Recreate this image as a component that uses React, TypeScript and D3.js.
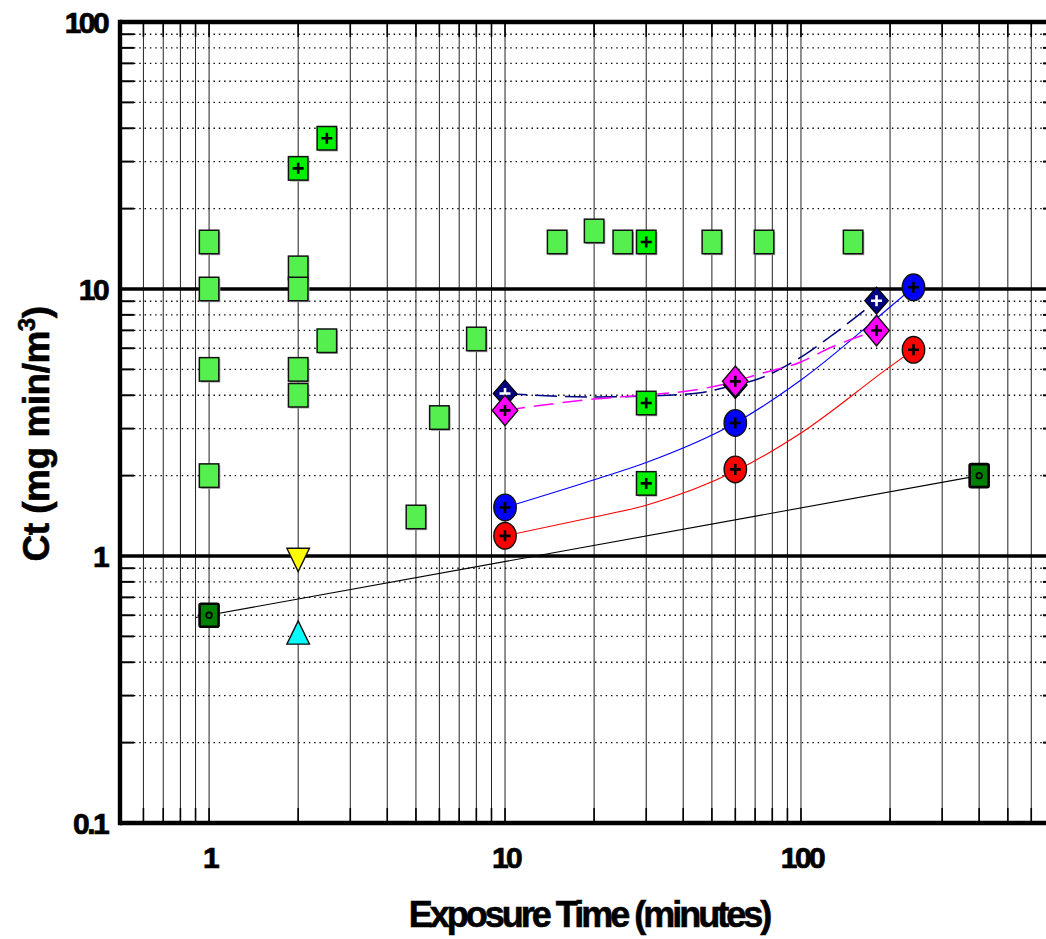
import React from "react";
import * as d3 from "d3";

// ---------------- data ----------------
const plainSqX = [1, 1, 1, 1, 2, 2, 2, 2, 2.5, 5, 6, 8, 15, 20, 25, 50, 75, 150];
const plainSqY = [15, 10, 5, 2, 12, 10, 5, 4, 6.4, 1.4, 3.3, 6.5, 15, 16.5, 15, 15, 15, 15];

const crossSqX = [2, 2.5, 30, 30, 30];
const crossSqY = [28.3, 36.7, 15, 3.74, 1.87];

const darkSqX = [1, 400];
const darkSqY = [0.6, 2.0];

const yellowTriX = [2];
const yellowTriY = [1.0];
const cyanTriX = [2];
const cyanTriY = [0.5];

const blueX = [10, 60, 240];
const blueY = [1.52, 3.15, 10.15];
const redX = [10, 60, 240];
const redY = [1.19, 2.11, 5.92];
const navyX = [10, 60, 180];
const navyY = [4.06, 4.37, 9.04];
const magentaX = [10, 60, 180];
const magentaY = [3.51, 4.51, 6.99];

// fitted curves
const blueFitX = [10, 20, 30, 60, 100, 200, 240];
const blueFitY = [1.52, 1.93, 2.24, 3.15, 4.56, 8.56, 10.15];
const redFitX = [10, 20, 30, 60, 100, 200, 240];
const redFitY = [1.19, 1.4, 1.55, 2.08, 2.89, 5.12, 5.92];
const navyFitX = [10, 20, 30, 45, 60, 70, 100, 125, 180];
const navyFitY = [4.06, 3.94, 3.97, 4.08, 4.37, 4.56, 5.56, 6.61, 9.04];
const magentaFitX = [10, 20, 30, 42, 60, 70, 100, 125, 180];
const magentaFitY = [3.51, 3.87, 4.01, 4.16, 4.51, 4.76, 5.33, 6.01, 6.99];
const blackFitX = [0.9, 400];
const blackFitY = [0.588, 2.0];

const xTickLabels = [1, 10, 100];
const yTickLabels = [0.1, 1, 10, 100];
const yMajorLines = [1, 10];

// ---------------- layout ----------------
const W = 1046;
const H = 939;
const L = 120, R = 1057, T = 22, B = 823;
const FONT = "'Liberation Sans', Arial, Helvetica, sans-serif";

const zip = (xs: number[], ys: number[]) => xs.map((v, i) => [v, ys[i]] as [number, number]);

function Plus({ cx, cy, color = "#000" }: { cx: number; cy: number; color?: string }) {
  const a = 5.5;
  return (
    <path
      d={`M${cx - a},${cy}H${cx + a}M${cx},${cy - a}V${cy + a}`}
      stroke={color}
      strokeWidth={2.6}
      fill="none"
    />
  );
}

export default function App() {
  const x = d3.scaleLog().domain([0.5, 733]).range([L, R]);
  const y = d3.scaleLog().domain([0.1, 100]).range([B, T]);

  const xGrid = x.ticks().filter((v) => v > 0.5 * 1.0001 && v < 733);
  const yGrid = y.ticks().filter((v) => v > 0.1 * 1.0001 && v < 99.99);
  const yMinor = yGrid.filter((v) => !yMajorLines.some((m) => Math.abs(m - v) < 1e-9));

  const line = d3
    .line<[number, number]>()
    .x((d) => x(d[0]))
    .y((d) => y(d[1]))
    .curve(d3.curveMonotoneX);

  const sqW = 19.5, sqH = 23.5;

  return (
    <svg
      width={W}
      height={H}
      style={{ position: "absolute", left: 0, top: 0, background: "#fff" }}
      fontFamily={FONT}
    >
      <rect x={0} y={0} width={W} height={H} fill="#fff" />

      {/* vertical grid lines */}
      {xGrid.map((v, i) => (
        <line key={"vg" + i} x1={x(v)} x2={x(v)} y1={T} y2={B} stroke="#222" strokeWidth={1} />
      ))}
      {/* top / bottom inner ticks */}
      {xGrid.map((v, i) => (
        <g key={"vt" + i}>
          <line x1={x(v)} x2={x(v)} y1={B - 15} y2={B} stroke="#000" strokeWidth={1.6} />
          <line x1={x(v)} x2={x(v)} y1={T} y2={T + 15} stroke="#000" strokeWidth={1.6} />
        </g>
      ))}

      {/* horizontal dotted minor grid */}
      {yMinor.map((v, i) => (
        <g key={"hg" + i}>
          <line
            x1={L + 14}
            x2={R - 14}
            y1={y(v)}
            y2={y(v)}
            stroke="#000"
            strokeWidth={1.4}
            strokeDasharray="1.4 3.9"
          />
          <line x1={L} x2={L + 14} y1={y(v)} y2={y(v)} stroke="#000" strokeWidth={2} />
          <line x1={R - 14} x2={R} y1={y(v)} y2={y(v)} stroke="#000" strokeWidth={2} />
        </g>
      ))}

      {/* major horizontal lines */}
      {yMajorLines.map((v, i) => (
        <line key={"hm" + i} x1={L} x2={R} y1={y(v)} y2={y(v)} stroke="#000" strokeWidth={3.3} />
      ))}

      {/* frame */}
      <line x1={L} x2={R} y1={T} y2={T} stroke="#000" strokeWidth={4.6} />
      <line x1={L} x2={R} y1={B} y2={B} stroke="#000" strokeWidth={4.6} />
      <line x1={L} x2={L} y1={T - 2.3} y2={B + 2.3} stroke="#000" strokeWidth={4.4} />
      <line x1={R} x2={R} y1={T - 2.3} y2={B + 2.3} stroke="#000" strokeWidth={4.4} />

      {/* fitted curves */}
      <path d={line(zip(blackFitX, blackFitY)) || ""} stroke="#000" strokeWidth={1.1} fill="none" />
      <path d={line(zip(redFitX, redFitY)) || ""} stroke="#ff0000" strokeWidth={1.1} fill="none" />
      <path d={line(zip(blueFitX, blueFitY)) || ""} stroke="#0000ff" strokeWidth={1.1} fill="none" />
      <path
        d={line(zip(navyFitX, navyFitY)) || ""}
        stroke="#000080"
        strokeWidth={1.5}
        strokeDasharray="22 8"
        fill="none"
      />
      <path
        d={line(zip(magentaFitX, magentaFitY)) || ""}
        stroke="#ff00ff"
        strokeWidth={1.5}
        strokeDasharray="20 9"
        fill="none"
      />

      {/* light green squares */}
      {zip(plainSqX, plainSqY).map(([a, b], i) => (
        <g key={"ps" + i}>
          <rect x={x(a) - sqW / 2 + 1.5} y={y(b) - sqH / 2 + 1.5} width={sqW} height={sqH} fill="#aaa" />
          <rect
            x={x(a) - sqW / 2}
            y={y(b) - sqH / 2}
            width={sqW}
            height={sqH}
            fill="#55f050"
            stroke="#111"
            strokeWidth={1.5}
          />
        </g>
      ))}

      {/* bright green squares with cross */}
      {zip(crossSqX, crossSqY).map(([a, b], i) => (
        <g key={"cs" + i}>
          <rect x={x(a) - sqW / 2 + 1.5} y={y(b) - sqH / 2 + 1.5} width={sqW} height={sqH} fill="#aaa" />
          <rect
            x={x(a) - sqW / 2}
            y={y(b) - sqH / 2}
            width={sqW}
            height={sqH}
            fill="#00f000"
            stroke="#111"
            strokeWidth={1.5}
          />
          <Plus cx={x(a)} cy={y(b)} />
        </g>
      ))}

      {/* dark green squares with small circle */}
      {zip(darkSqX, darkSqY).map(([a, b], i) => (
        <g key={"ds" + i}>
          <rect
            x={x(a) - 9.5}
            y={y(b) - 11.5}
            width={19}
            height={23}
            rx={1.5}
            fill="#008000"
            stroke="#000"
            strokeWidth={2.6}
          />
          <circle cx={x(a)} cy={y(b)} r={2.8} fill="none" stroke="#000" strokeWidth={1.8} />
        </g>
      ))}

      {/* triangles (centroid at the data value) */}
      {zip(yellowTriX, yellowTriY).map(([a, b], i) => {
        const cx = x(a), cy = y(b), w = 11.3, h = 23.3;
        return (
          <path
            key={"yt" + i}
            d={`M${cx - w},${cy - h / 3}L${cx + w},${cy - h / 3}L${cx},${cy + (2 * h) / 3}Z`}
            fill="#ffff00"
            stroke="#111"
            strokeWidth={1.4}
          />
        );
      })}
      {zip(cyanTriX, cyanTriY).map(([a, b], i) => {
        const cx = x(a), cy = y(b), w = 11.3, h = 23.3;
        return (
          <path
            key={"ct" + i}
            d={`M${cx - w},${cy + h / 3}L${cx + w},${cy + h / 3}L${cx},${cy - (2 * h) / 3}Z`}
            fill="#00ffff"
            stroke="#111"
            strokeWidth={1.4}
          />
        );
      })}

      {/* navy diamonds with white cross */}
      {zip(navyX, navyY).map(([a, b], i) => {
        const cx = x(a), cy = y(b), w = 11.8, h = 13.5;
        return (
          <g key={"nd" + i}>
            <path
              d={`M${cx},${cy - h}L${cx + w},${cy}L${cx},${cy + h}L${cx - w},${cy}Z`}
              fill="#000080"
              stroke="#000"
              strokeWidth={1.2}
            />
            <Plus cx={cx} cy={cy} color="#fff" />
          </g>
        );
      })}

      {/* magenta diamonds */}
      {zip(magentaX, magentaY).map(([a, b], i) => {
        const cx = x(a), cy = y(b), w = 12.8, h = 15.3;
        return (
          <g key={"md" + i}>
            <path
              d={`M${cx},${cy - h}L${cx + w},${cy}L${cx},${cy + h}L${cx - w},${cy}Z`}
              fill="#ff00ff"
              stroke="#111"
              strokeWidth={1.4}
            />
            <Plus cx={cx} cy={cy} />
          </g>
        );
      })}

      {/* blue ellipses */}
      {zip(blueX, blueY).map(([a, b], i) => (
        <g key={"be" + i}>
          <ellipse cx={x(a)} cy={y(b)} rx={11.2} ry={13.3} fill="#0000ff" stroke="#111" strokeWidth={1.4} />
          <Plus cx={x(a)} cy={y(b)} />
        </g>
      ))}
      {/* red ellipses */}
      {zip(redX, redY).map(([a, b], i) => (
        <g key={"re" + i}>
          <ellipse cx={x(a)} cy={y(b)} rx={11.2} ry={13.3} fill="#ff0000" stroke="#111" strokeWidth={1.4} />
          <Plus cx={x(a)} cy={y(b)} />
        </g>
      ))}

      {/* tick labels */}
      {yTickLabels.map((v, i) => (
        <text
          key={"yl" + i}
          x={107}
          y={y(v) + 11}
          textAnchor="end"
          fontSize={30}
          fontWeight="bold"
          letterSpacing={-2.6}
          stroke="#000"
          strokeWidth={0.7}
          fill="#000"
        >
          {String(v)}
        </text>
      ))}
      {xTickLabels.map((v, i) => (
        <text
          key={"xl" + i}
          x={x(v) + 1}
          y={868}
          textAnchor="middle"
          fontSize={30}
          fontWeight="bold"
          letterSpacing={-2.6}
          stroke="#000"
          strokeWidth={0.7}
          fill="#000"
        >
          {String(v)}
        </text>
      ))}

      {/* axis titles */}
      <text
        x={589}
        y={927}
        textAnchor="middle"
        fontSize={36}
        fontWeight="bold"
        letterSpacing={-3}
        stroke="#000"
        strokeWidth={0.6}
        fill="#000"
      >
        Exposure Time (minutes)
      </text>
      <text
        transform="translate(49,434) rotate(-90)"
        textAnchor="middle"
        fontSize={37}
        fontWeight="bold"
        letterSpacing={-0.5}
        stroke="#000"
        strokeWidth={0.6}
        fill="#000"
      >
        Ct (mg min/m
        <tspan fontSize={24} dy={-14}>
          3
        </tspan>
        <tspan dy={14}>)</tspan>
      </text>
    </svg>
  );
}
